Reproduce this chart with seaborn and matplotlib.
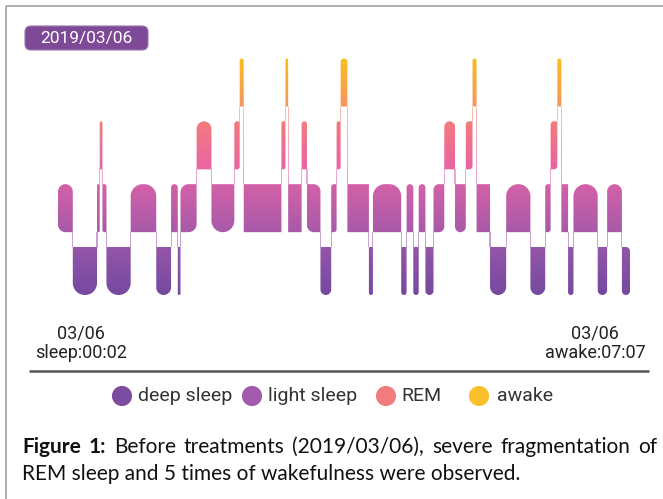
import numpy as np
import matplotlib
matplotlib.use("Agg")
import matplotlib.pyplot as plt
import seaborn as sns
import pandas as pd
from matplotlib.path import Path
from matplotlib.patches import PathPatch, FancyBboxPatch

# ---------------- data ----------------
stage_names = ["deep sleep", "light sleep", "REM", "awake"]
stage_codes = ["L", "D", "L", "R", "L", "D", "L", "D", "L", "D",
               "L", "R", "L", "R", "W", "L", "R", "W", "L", "R",
               "L", "D", "L", "R", "W", "L", "D", "L", "D", "L",
               "D", "L", "D", "L", "R", "L", "R", "W", "L", "D",
               "L", "D", "L", "R", "W", "L", "D", "L", "D", "L",
               "D"]
durations_min = [11, 18, 2, 2, 3, 18, 19, 11, 5, 2,
                 12, 11, 17, 4, 3, 28, 3, 2, 10, 4,
                 10, 8, 4, 3, 5, 16, 3, 21, 4, 5,
                 4, 5, 6, 8, 8, 8, 5, 3, 10, 12,
                 18, 11, 4, 5, 3, 5, 4, 18, 7, 11,
                 6]
date_label = "2019/03/06"
start_labels = ["03/06", "sleep:00:02"]
end_labels = ["03/06", "awake:07:07"]
legend_colors = ["#7B4CA0", "#A15CAB", "#F07C80", "#FBBF2B"]
caption_bold = "Figure 1:"
caption_line1 = "Before treatments (2019/03/06), severe fragmentation of"
caption_line2 = "REM sleep and 5 times of wakefulness were observed."

level_of = {"D": 0, "L": 1, "R": 2, "W": 3}
df = pd.DataFrame({"stage": stage_codes, "dur": durations_min})
df["level"] = df["stage"].map(level_of)
df["end"] = df["dur"].cumsum()
df["start"] = df["end"] - df["dur"]
total = df["end"].iloc[-1]

# ---------------- figure ----------------
sns.set_theme(style="white")
plt.rcParams["font.family"] = ["Roboto", "DejaVu Sans"]
W, H = 663, 499
fig = plt.figure(figsize=(W / 100, H / 100), dpi=100)
fig.patch.set_facecolor("white")

oax = fig.add_axes([0, 0, 1, 1])
oax.set_xlim(0, W)
oax.set_ylim(H, 0)
oax.axis("off")

ax_l, ax_r, ax_t, ax_b = 58, 630, 51.1, 302.4
ax = fig.add_axes([ax_l / W, (H - ax_b) / H, (ax_r - ax_l) / W, (ax_b - ax_t) / H])
ax.set_xlim(0, total)
ax.set_ylim(-0.5, 3.5)
ax.axis("off")
ax.patch.set_alpha(0)

px_x = total / (ax_r - ax_l)
px_y = 4.0 / (ax_b - ax_t)
half = 24 * px_y


def rrect(x0, x1, y0, y1, rx, ry, tl, tr, br, bl):
    k = 0.5523
    v, c = [], []
    v.append((x0 + (rx if bl else 0), y0)); c.append(Path.MOVETO)
    v.append((x1 - (rx if br else 0), y0)); c.append(Path.LINETO)
    if br:
        v += [(x1 - rx + k * rx, y0), (x1, y0 + ry - k * ry), (x1, y0 + ry)]
        c += [Path.CURVE4] * 3
    v.append((x1, y1 - (ry if tr else 0))); c.append(Path.LINETO)
    if tr:
        v += [(x1, y1 - ry + k * ry), (x1 - rx + k * rx, y1), (x1 - rx, y1)]
        c += [Path.CURVE4] * 3
    v.append((x0 + (rx if tl else 0), y1)); c.append(Path.LINETO)
    if tl:
        v += [(x0 + rx - k * rx, y1), (x0, y1 - ry + k * ry), (x0, y1 - ry)]
        c += [Path.CURVE4] * 3
    v.append((x0, y0 + (ry if bl else 0))); c.append(Path.LINETO)
    if bl:
        v += [(x0, y0 + ry - k * ry), (x0 + rx - k * rx, y0), (x0 + rx, y0)]
        c += [Path.CURVE4] * 3
    v.append((x0, y0)); c.append(Path.CLOSEPOLY)
    return Path(v, c)


bar_paths = []
conn_paths = []
n = len(df)
levels = df["level"].tolist()
starts = df["start"].tolist()
ends = df["end"].tolist()
for i in range(n):
    s = levels[i]
    p = levels[i - 1] if i > 0 else None
    q = levels[i + 1] if i < n - 1 else None
    x0, x1 = starts[i], ends[i]
    w_px = (x1 - x0) / px_x
    r_px = min(w_px / 2.0, 12.0)
    if p == 3 and s == 1:
        r_px = 0.0
    rx, ry = r_px * px_x, r_px * px_y
    tl = not (p is not None and p > s)
    bl = not (p is not None and p < s)
    tr = not (q is not None and q > s)
    br = not (q is not None and q < s)
    bar_paths.append(rrect(x0, x1, s - half, s + half, rx, ry, tl, tr, br, bl))
    if q is not None:
        hi, lo = max(s, q), min(s, q)
        cw = 0.55 * px_x
        conn_paths.append(rrect(x1 - cw, x1 + cw, lo + half, hi - half,
                                0, 0, False, False, False, False))

stops_y = [-0.5, -half, half, 1 - half, 1 + half, 2 - half, 2 + half, 3 - half, 3 + half, 3.5]
stops_c = ["#7247A0", "#7549A0", "#9456A9", "#A85AA8", "#D461A8", "#E964A4",
           "#F27C7C", "#F6955F", "#FBBF1F", "#FBBF1F"]
rgb = np.array([matplotlib.colors.to_rgb(c) for c in stops_c])
yy = np.linspace(-0.5, 3.5, 600)
img = np.stack([np.interp(yy, stops_y, rgb[:, j]) for j in range(3)], axis=-1)[:, None, :]

for paths, alpha in [(conn_paths, 0.55), (bar_paths, 1.0)]:
    compound = Path.make_compound_path(*paths)
    patch = PathPatch(compound, facecolor="none", edgecolor="none", transform=ax.transData)
    ax.add_patch(patch)
    im = ax.imshow(img, extent=(0, total, -0.5, 3.5), origin="lower", aspect="auto",
                   interpolation="bilinear", alpha=alpha)
    im.set_clip_path(patch)

# ---------------- decorations ----------------
oax.plot([6, 6], [6, H], color="#a0a0a0", lw=1.2, solid_capstyle="butt")
oax.plot([6, W], [6, 6], color="#a0a0a0", lw=1.2, solid_capstyle="butt")

badge = FancyBboxPatch((25, 26), 123, 24, boxstyle="round,pad=0,rounding_size=6",
                       facecolor="#7E4A97", edgecolor="#9a74b0", lw=0.8)
oax.add_patch(badge)
oax.text(86, 38.5, date_label, color="white", fontsize=12.5, ha="center", va="center")

for (lbl, xc) in [(start_labels, 81), (end_labels, 595)]:
    oax.text(xc, 334, lbl[0], fontsize=13, ha="center", va="center", color="#222222")
    oax.text(xc, 353, lbl[1], fontsize=13, ha="center", va="center", color="#222222")

oax.plot([29, 649], [371, 371], color="#555555", lw=1.8, solid_capstyle="butt")

leg_df = pd.DataFrame({"x": [122, 252, 386, 479], "y": [396] * 4, "name": stage_names})
sns.scatterplot(data=leg_df, x="x", y="y", hue="name", palette=legend_colors,
                s=210, edgecolor="none", legend=False, ax=oax)
oax.set_xlim(0, W)
oax.set_ylim(H, 0)
oax.axis("off")
for xt, name in zip([138, 268, 401, 497], stage_names):
    oax.text(xt, 396, name, fontsize=14, ha="left", va="center", color="#333333")

cap_font = ["Lato", "DejaVu Sans"]
cap_size = 15
renderer = fig.canvas.get_renderer()
words = [(w, True) for w in caption_bold.split()] + [(w, False) for w in caption_line1.split()]
texts = []
for w, b in words:
    t = oax.text(0, 447, w, fontsize=cap_size, family=cap_font,
                 fontweight="bold" if b else "normal", ha="left", va="center", color="#111111")
    texts.append(t)
widths = [t.get_window_extent(renderer).width for t in texts]
x_left, x_right = 22, 657
gap = (x_right - x_left - sum(widths)) / (len(texts) - 1)
x = x_left
for t, wd in zip(texts, widths):
    t.set_x(x)
    x += wd + gap
oax.text(x_left, 474, caption_line2, fontsize=cap_size, family=cap_font,
         ha="left", va="center", color="#111111")

fig.savefig("out.png", dpi=100)
